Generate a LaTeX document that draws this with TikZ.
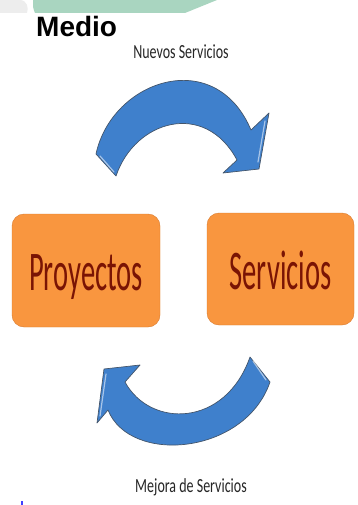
\documentclass[tikz,border=0pt]{standalone}
\usepackage{fontspec}
\setmainfont{Carlito}
\newfontfamily\headfont{Liberation Sans}
\usepackage{graphicx}
\usetikzlibrary{positioning}

\definecolor{bandgreen}{HTML}{A9D5C0}
\definecolor{bandgrey}{HTML}{EDEDED}
\definecolor{boxorange}{HTML}{F9963F}
\definecolor{boxedge}{HTML}{D97B2E}
\definecolor{boxtext}{HTML}{7A1404}
\definecolor{arrowblue}{HTML}{3F80CC}
\definecolor{arrowedge}{HTML}{44556A}
\definecolor{labelgrey}{HTML}{262626}

\newcommand{\narrowtext}[2]{\scalebox{#1}[1]{#2}}

\tikzset{
    bigbox/.style={draw=boxedge, fill=boxorange, rounded corners=12pt,
        minimum width=148pt, minimum height=113pt, inner sep=0pt,
        text height=40pt, text depth=0pt, text=boxtext,
        font=\fontsize{56}{56}\selectfont},
    caption/.style={text=labelgrey, inner sep=0pt, font=\fontsize{20}{20}\selectfont},
    bluearrow/.style={draw=arrowedge, fill=arrowblue, line width=0.7pt, line join=round},
    glint/.style={draw=white, opacity=0.55, line width=1.2pt, line cap=round},
}

\begin{document}
\begin{tikzpicture}[x=1pt, y=-1pt]
    \useasboundingbox (0,0) rectangle (357,505);

    % Header band
    \fill[bandgrey] (0,0) -- (20,0) .. controls (27,0) and (29,8) .. (27,13) -- (0,13) -- cycle;
    \fill[bandgreen] (33,0) -- (217,0) -- (185,13) -- (35,13) .. controls (33,8) .. cycle;

    % Nodes
    \node[anchor=base west, inner sep=0pt, font=\headfont\bfseries\fontsize{28}{28}\selectfont] (medio) at (36,37) {Medio};
    \node[caption, anchor=base] (nuevos) at (181,59) {\narrowtext{0.7}{Nuevos Servicios}};
    \node[bigbox] (proyectos) at (86,270.5) {\narrowtext{0.51}{Proyectos}};
    \node[bigbox, minimum width=147pt, minimum height=112pt] (servicios) at (280.5,269) {\narrowtext{0.51}{Servicios}};
    \node[caption, anchor=base] (mejora) at (191,492) {\narrowtext{0.7}{Mejora de Servicios}};

    % Arrows
    \draw[bluearrow] (96,154) .. controls (112,80) and (215,45) .. (251,130) -- (269,113) -- (259,169)
        -- (223,173) -- (237,160) .. controls (205,100) and (135,120) .. (116,176) -- cycle;
    \draw[bluearrow] (270,382) .. controls (245,455) and (130,465) .. (108,410) -- (97,423) -- (104,369)
        -- (140,365) -- (125,382) .. controls (150,428) and (225,428) .. (250,357) -- cycle;

    % bevel highlights
    \draw[glint] (100,156) -- (114,172);
    \draw[glint] (265,121) -- (258,162);
    \draw[glint] (106,374) -- (100,416);
    \draw[glint] (253,361) -- (266,380);

    % stray mark
    \fill[blue!75] (21,501) rectangle (23,505);
\end{tikzpicture}
\end{document}
